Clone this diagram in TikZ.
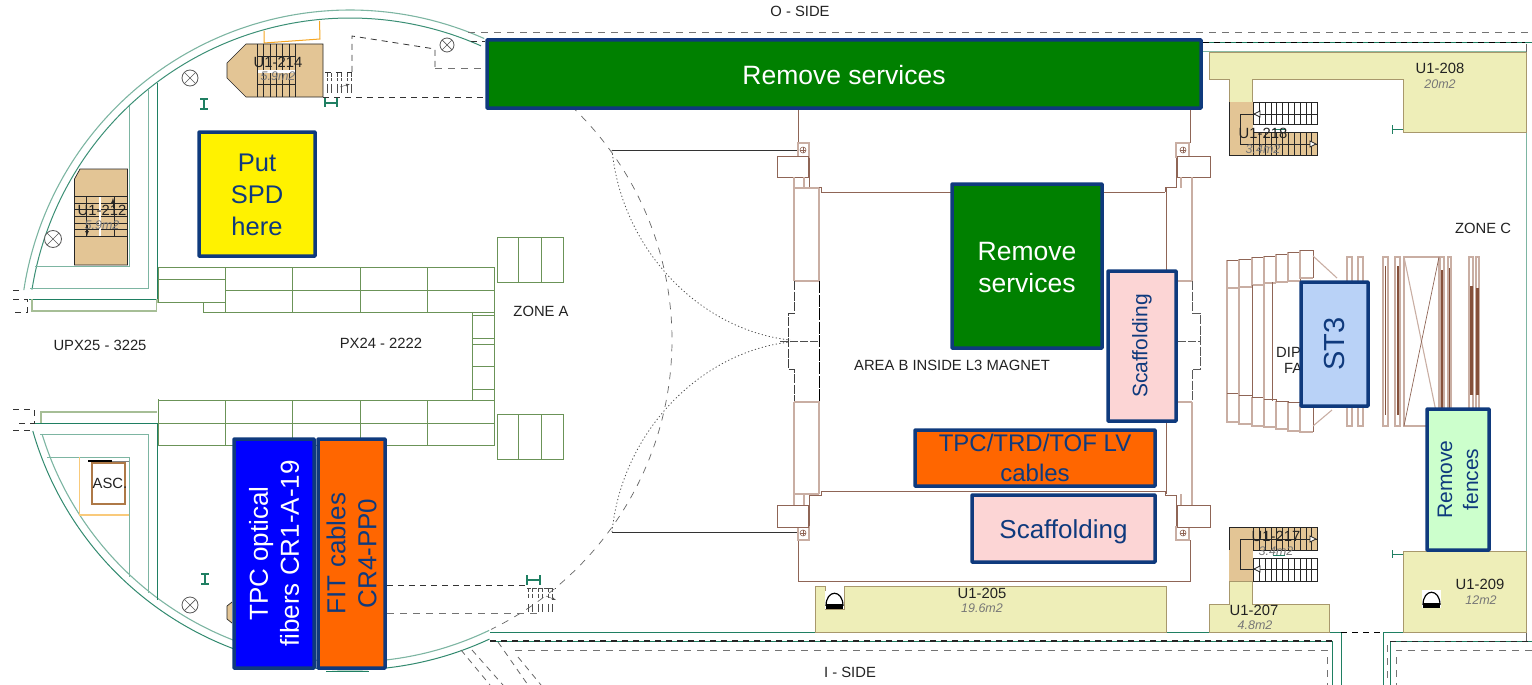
\documentclass[tikz,border=0pt]{standalone}
\usepackage{fontspec}
\setmainfont{Liberation Sans}
\definecolor{boxblue}{HTML}{0F3A7D}
\definecolor{wallteal}{HTML}{1F7F62}
\definecolor{walllight}{HTML}{7DB5A2}
\definecolor{gridgreen}{HTML}{6B9358}
\definecolor{wingrey}{HTML}{A6BE96}
\definecolor{brownline}{HTML}{8F6556}
\definecolor{brownlight}{HTML}{C9AEA3}
\definecolor{browndark}{HTML}{85503A}
\definecolor{roomfill}{HTML}{EEEEB8}
\definecolor{roomline}{HTML}{A8986C}
\definecolor{stairfill}{HTML}{E3C595}
\definecolor{labelgrey}{HTML}{222222}
\definecolor{areagrey}{HTML}{777777}
\definecolor{orangewire}{HTML}{F5A623}
\definecolor{stthreefill}{HTML}{B9D2F7}
\definecolor{fencefill}{HTML}{CCFFCC}
\definecolor{scaffoldfill}{HTML}{FCD5D5}
\definecolor{cablefill}{HTML}{FF6600}
\tikzset{
	taskbox/.style={draw=boxblue, line width=3.5pt, rounded corners=0.6pt, align=center, inner sep=0pt, text=boxblue},
	planlabel/.style={text=labelgrey, font=\fontsize{14.8}{16}\selectfont, inner sep=0pt},
	arealabel/.style={text=areagrey, font=\itshape\fontsize{12.5}{14}\selectfont, inner sep=0pt},
	room/.style={draw=roomline, fill=roomfill, line width=0.9pt},
	stairs/.style={draw=black!85, line width=0.7pt},
	grid/.style={draw=gridgreen, line width=0.9pt},
	brownwall/.style={draw=brownline, line width=0.9pt},
	brownpale/.style={draw=brownlight, line width=1.1pt},
	hiddenline/.style={draw=black!80, line width=0.8pt, dash pattern=on 6pt off 5pt},
	greydash/.style={draw=black!55, line width=1pt, dash pattern=on 7pt off 6pt},
	tealline/.style={draw=wallteal, line width=0.9pt},
	paleline/.style={draw=walllight, line width=1pt}
}
\def\ringarc[#1](#2:#3:#4){\draw[#1] plot[domain=#2:#3, samples=70, smooth] ({350+#4*cos(\x)},{340+#4*sin(\x)});}
\def\lampmark(#1,#2,#3){
	\draw[black!65, line width=0.8pt, fill=white] (#1,#2) circle (#3pt);
	\draw[black!65, line width=0.7pt] ({#1-0.7*#3},{#2-0.7*#3}) -- ({#1+0.7*#3},{#2+0.7*#3});
	\draw[black!65, line width=0.7pt] ({#1-0.7*#3},{#2+0.7*#3}) -- ({#1+0.7*#3},{#2-0.7*#3});
}
\def\liftmark(#1,#2){
	\begin{scope}[shift={(#1,#2)}]
		\fill[white] (0,0) rectangle (19,18);
		\draw[black, line width=1.2pt] (1,15) .. controls (1,-2) and (18,-2) .. (18,15);
		\fill[black] (1,13) rectangle (18,18);
	\end{scope}
}
\begin{document}
\begin{tikzpicture}[x=1pt, y=-1pt]
			%%%%% START %%%%%
			\useasboundingbox (0,0) rectangle (1532,685);
			
			%%%%% round hall walls
			\ringarc[walllight, line width=1.1pt](188.7:294:330);
			\ringarc[wallteal!70!walllight, line width=1pt](189:294:322);
			\ringarc[wallteal!80!walllight, line width=1pt](65:164:330);
			\ringarc[walllight, line width=1.1pt](64.4:163:322);
			\ringarc[hiddenline, draw=black!60, line width=0.7pt, dash pattern=on 7pt off 7pt](-64:64:322);
			
			\draw[tealline] (157,83) -- (157,299) -- (29,299);
			\draw[draw=wingrey, line width=1.1pt] (32,299) -- (32,311) -- (157,311) -- (157,299);
			\draw[paleline] (148,89) -- (148,288) -- (30,288);
			\draw[paleline] (129,106) -- (129,266) -- (35,266);
			\draw[hiddenline] (13,290) -- (22,290);
			\draw[hiddenline] (13,299) -- (27,299) -- (27,312) -- (13,312);
			
			\draw[tealline] (30,423) -- (157,423) -- (157,600);
			\draw[draw=wingrey, line width=1.1pt] (41,423) -- (41,412) -- (157,412);
			\draw[paleline] (40,434) -- (148,434) -- (148,593);
			\draw[paleline] (47,457) -- (129,457) -- (129,577);
			\draw[hiddenline] (13,409) -- (34,409) -- (34,423) -- (16,423);
			\draw[hiddenline] (13,430) -- (30,430);
			
			%%%%% outer corridor
			\draw[greydash] (468,33) -- (1532,33);
			\draw[hiddenline] (471,41) -- (485,41);
			\draw[tealline] (1203,42) -- (1532,42);
			\draw[hiddenline, draw=black] (1203,42) -- (1525,42);
			\draw[paleline] (1203,52) -- (1526,52) -- (1526,551);
			\draw[black!60, line width=0.8pt] (1526,44) -- (1526,52);
			
			\draw[tealline] (490,632) -- (1341,632) -- (1341,685);
			\draw[tealline] (490,641) -- (1332,641) -- (1332,685);
			\draw[hiddenline, draw=black!85, line width=1.1pt] (490,641) -- (1332,641);
			\draw[greydash] (515,650) -- (1327,650) -- (1327,685);
			\draw[hiddenline, draw=black] (1341,632) -- (1383,632);
			\draw[tealline] (1383,685) -- (1383,632) -- (1526,632);
			\draw[tealline] (1390,685) -- (1390,641) -- (1532,641);
			\draw[hiddenline, draw=black!85] (1390,641) -- (1532,641);
			\draw[greydash] (1387,645) -- (1387,680);
			\draw[greydash] (1532,650) -- (1396,650) -- (1396,685);
			\draw[black!60, line width=0.8pt] (1526,632) -- (1526,641);
			
			\draw[hiddenline, draw=black!60] (498,642) -- (528,685);
			\draw[hiddenline, draw=black!60] (518,657) -- (541,685);
			\draw[hiddenline, draw=black!60] (461,650) -- (490,685);
			\draw[hiddenline, draw=black!60] (472,650) -- (503,685);
			\draw[tealline] (326,671) -- (369,671);
			
			%%%%% zone A grids
			\draw[grid] (158,267) rectangle (494,445);
			\fill[white] (157,303) rectangle (471,399);
			\fill[white] (157,303) rectangle (202,312);
			\draw[grid] (158,279) -- (225,279);
			\draw[grid] (158,302) -- (225,302);
			\draw[grid] (203,302) -- (203,312) -- (472,312);
			\draw[grid] (225,290) -- (494,290);
			\draw[grid] (158,400) -- (494,400);
			\draw[grid] (158,423) -- (494,423);
			\draw[grid] (158,267) -- (158,302);
			\draw[grid] (158,400) -- (158,445);
			\draw[grid] (472,312) -- (472,400);
			\foreach \stepy in {312,315,338,344,366,389} {
				\draw[grid] (472,\stepy) -- (494,\stepy);
			}
			\foreach \cellx in {225,292,360,427} {
				\draw[grid] (\cellx,267) -- (\cellx,312);
				\draw[grid] (\cellx,400) -- (\cellx,445);
			}
			\foreach \topy in {237,414} {
				\draw[grid] (497,\topy) rectangle (563,\topy+45);
				\draw[grid] (518,\topy) -- (518,\topy+45);
				\draw[grid] (541,\topy) -- (541,\topy+45);
			}
			
			%%%%% stair U1-214
			\draw[orangewire, line width=1pt] (264,31) -- (264,43) -- (320,39) -- (319.5,21);
			\draw[stairs, fill=stairfill] (246,44) -- (323,44) -- (323,97) -- (246,97) -- (227,78) -- (227,63) -- cycle;
			\foreach \treadx in {257,263.5,270,276,282.5,289,295} {
				\draw[stairs] (\treadx,44) -- (\treadx,97);
			}
			\fill[white] (258,70) rectangle (295,73);
			\draw[stairs] (257,56) -- (295,56);
			\draw[stairs] (257,84) -- (295,84);
			\node[planlabel] (uonetwofourteen) at (278,62) {U1-214};
			\node[arealabel] (areafourteen) at (278,76) {5.9m2};
			
			\draw[hiddenline] (352,72) -- (352,36) -- (435,49) -- (435,69);
			\draw[greydash] (435,69) -- (485,69);
			\draw[hiddenline] (323,97) -- (485,97);
			\draw[hiddenline] (325,72) -- (352,72);
			\foreach \dashx in {327,337,347} {
				\draw[black!70, line width=0.7pt, dash pattern=on 4pt off 1.5pt] (\dashx,73) -- (\dashx,81);
				\draw[black!70, line width=0.7pt, dash pattern=on 4pt off 1.5pt] (\dashx+4,73) -- (\dashx+4,81);
				\draw[black!70, line width=0.7pt] (\dashx,84) -- (\dashx,93);
				\draw[black!70, line width=0.7pt] (\dashx+4,84) -- (\dashx+4,93);
			}
			\draw[black!70, -latex] (340,87) -- (350,84);
			
			%%%%% stair U1-212
			\draw[stairs, fill=stairfill] (80,169) -- (127.5,169) -- (127.5,265) -- (74.5,265) -- (74.5,179) -- cycle;
			\foreach \tready in {196,203,209.5,216,223,229,236} {
				\draw[stairs] (74.5,\tready) -- (127.5,\tready);
			}
			\foreach \postx in {86,114} {
				\draw[stairs] (\postx,196) -- (\postx,236);
			}
			\fill[white] (99,197) rectangle (101,236);
			\draw[stairs, -latex] (113,208) -- (113,198);
			\draw[stairs, -latex] (87,225) -- (87,236);
			\node[planlabel] (uonetwotwelve) at (102,210) {U1-212};
			\node[arealabel] (areatwelve) at (102,225) {5.9m2};
			
			%%%%% ASC. and lower stair
			\draw[orangewire!60, line width=0.9pt] (79,457) -- (79,515);
			\draw[orangewire!60, line width=2.2pt] (79,515) -- (129,515);
			\draw[draw=brownline!70!orangewire, line width=1.2pt] (92,463) rectangle (125,504);
			\draw[black, line width=1.5pt] (88,461) -- (112,461);
			\draw[black!50, line width=1pt] (112,461) -- (129,461);
			\node[planlabel] (ascnode) at (110,483) {ASC.};
			\draw[stairs, fill=stairfill] (232,602) -- (227,606) -- (227,619) -- (232,623);
			
			\draw[hiddenline] (387,585) -- (528,585);
			\draw[greydash] (387,613) -- (540,613);
			\foreach \dashx in {528,538,548} {
				\draw[black!70, line width=0.7pt, dash pattern=on 4pt off 1.5pt] (\dashx,588) -- (\dashx,598);
				\draw[black!70, line width=0.7pt, dash pattern=on 4pt off 1.5pt] (\dashx+4,588) -- (\dashx+4,598);
				\draw[black!70, line width=0.7pt] (\dashx,604) -- (\dashx,612);
				\draw[black!70, line width=0.7pt] (\dashx+4,604) -- (\dashx+4,612);
			}
			\draw[black!70, line width=0.7pt, dash pattern=on 4pt off 1.5pt] (527,588) -- (556,588);
			\draw[black!70, -latex] (546,596) -- (556,600);
			
			%%%%% lamps and door marks
			\lampmark(190,78,8)
			\lampmark(447,45,7)
			\lampmark(53,239,8.5)
			\lampmark(190,605,8)
			
			\draw[tealline, line width=1.1pt] (200,99) -- (208,99) (204,99) -- (204,109) (200,109) -- (208,109);
			\draw[tealline, line width=1.1pt] (201,574) -- (209,574) (205,574) -- (205,584) (201,584) -- (209,584);
			\draw[tealline, line width=1.1pt] (325,98) -- (325,107) (325,103) -- (337,103) (337,98) -- (337,107);
			\draw[tealline, line width=1.1pt] (527,575) -- (527,585) (527,580) -- (540,580) (540,575) -- (540,585);
			\draw[tealline] (1392,125) -- (1392,134) (1392,129) -- (1403,129);
			\draw[tealline] (1392,550) -- (1392,558) (1392,554) -- (1403,554);
			
			%%%%% magnet
			\draw[black!80, line width=1pt] (612,150) -- (798,150);
			\draw[black!80, line width=1pt] (612,532) -- (798,532);
			\draw[black!70, line width=0.8pt, dash pattern=on 1.2pt off 2.4pt] (612,150) .. controls (622,250) and (700,330) .. (790,340);
			\draw[black!70, line width=0.8pt, dash pattern=on 1.2pt off 2.4pt] (612,532) .. controls (622,432) and (700,352) .. (790,342);
			
			\draw[brownwall] (798,110) -- (798,143);
			\draw[brownwall] (1190,110) -- (1190,143);
			\draw[brownwall] (798,540) -- (798,581) -- (1190,581) -- (1190,540);
			\draw[brownwall] (809,143) -- (809,187) -- (821,187) -- (821,192) -- (1165,192);
			\draw[brownwall] (1176,143) -- (1176,187) -- (1165,187) -- (1165,192);
			\draw[brownwall] (809,540) -- (809,495) -- (821,495) -- (821,491) -- (1165,491);
			\draw[brownwall] (1176,540) -- (1176,495) -- (1165,495) -- (1165,491);
			
			\draw[brownpale] (798,143) rectangle (809,157);
			\draw[brownpale] (1176,143) rectangle (1189,157);
			\draw[brownpale] (798,527) rectangle (809,540);
			\draw[brownpale] (1176,527) rectangle (1189,540);
			\foreach \boltx/\bolty in {803/150,1183/150,803/533,1183/533} {
				\draw[brownline, line width=0.6pt] (\boltx,\bolty) circle (3pt);
				\draw[brownline, line width=0.5pt] (\boltx-3,\bolty) -- (\boltx+3,\bolty) (\boltx,\bolty-3) -- (\boltx,\bolty+3);
			}
			\foreach \colleft/\blockleft/\blockright in {794/777/808, 1166/1177/1210} {
				\draw[brownwall, fill=white] (\blockleft,156) rectangle (\blockright,177);
				\draw[brownwall, fill=white] (\blockleft,505) rectangle (\blockright,527);
				\draw[brownpale] (\colleft,281) -- (\colleft+26,281);
				\draw[brownpale] (\colleft,402) -- (\colleft+26,402);
			}
			\draw[brownpale] (794,188) -- (794,281) (819,188) -- (819,281) (794,188) -- (819,188);
			\draw[brownpale] (794,402) -- (794,494) (819,402) -- (819,494) (794,494) -- (819,494);
			\draw[brownpale] (794,177) -- (794,188) (804,177) -- (804,188);
			\draw[brownpale] (794,494) -- (794,505) (804,494) -- (804,505);
			\draw[brownpale] (1192,188) -- (1192,281);
			\draw[brownpale] (1192,402) -- (1192,494);
			\draw[brownwall] (1166,188) -- (1166,281);
			\draw[brownwall] (1166,402) -- (1166,494);
			\draw[brownpale] (1192,177) -- (1192,188) (1181,177) -- (1181,188);
			\draw[brownpale] (1192,494) -- (1192,505) (1181,494) -- (1181,505);
			
			\draw[black!75, line width=0.9pt, dash pattern=on 9pt off 1.5pt] (794,281) -- (794,313) -- (788,313) -- (788,369) -- (794,369) -- (794,401);
			\draw[black, line width=0.9pt, dash pattern=on 12pt off 1.5pt] (819,281) -- (819,401);
			\draw[black!70, line width=0.9pt, dash pattern=on 8pt off 2pt] (780,341) -- (819,341);
			\draw[black!65, line width=0.9pt, dash pattern=on 9pt off 1.5pt] (1192,281) -- (1192,313) -- (1200,313) -- (1200,369) -- (1192,369) -- (1192,401);
			\draw[black!65, line width=0.9pt, dash pattern=on 8pt off 2pt] (1178,341) -- (1200,341);
			
			%%%%% rooms
			\draw[room] (1209,52) -- (1526,52) -- (1526,132) -- (1403,132) -- (1403,79) -- (1252,79) -- (1252,102) -- (1229,102) -- (1229,79) -- (1209,79) -- cycle;
			\draw[room] (1403,551) -- (1526,551) -- (1526,632) -- (1403,632) -- cycle;
			\draw[room] (815,632) -- (815,586) -- (825,586) -- (825,609) -- (844,609) -- (844,586) -- (1166,586) -- (1166,632) -- cycle;
			\draw[room] (1229,581) -- (1252,581) -- (1252,604) -- (1329,604) -- (1329,632) -- (1209,632) -- (1209,604) -- (1229,604) -- cycle;
			\liftmark(825,591)
			\liftmark(1422,590)
			
			%%%%% stairs U1-218 and U1-217
			\fill[stairfill] (1229,102) rectangle (1253,155);
			\draw[stairs, fill=stairfill] (1229,102) -- (1229,155) -- (1317,155) -- (1317,132) -- (1253,132);
			\draw[stairs] (1253,102) rectangle (1317,124.5);
			\draw[stairs, fill=white] (1253,102) rectangle (1317,124.5);
			\fill[stairfill] (1229,527) rectangle (1253,581);
			\draw[stairs, fill=stairfill] (1229,527) rectangle (1317,550);
			\draw[stairs, fill=white] (1253,558) rectangle (1317,581);
			\fill[stairfill] (1229,550) rectangle (1252.5,581);
			\foreach \treadx in {1253,1259,1265,1271,1276.5,1282.5,1288,1294,1300,1306,1311.5,1317} {
				\draw[stairs] (\treadx,102) -- (\treadx,124.5);
				\draw[stairs] (\treadx,132) -- (\treadx,155);
				\draw[stairs] (\treadx,527) -- (\treadx,550);
				\draw[stairs] (\treadx,558) -- (\treadx,581);
			}
			\draw[stairs, line width=0.9pt] (1317,114) -- (1240,114) -- (1240,144) -- (1317,144);
			\draw[stairs, line width=0.9pt] (1317,569) -- (1240,569) -- (1240,539) -- (1317,539);
			\foreach \tipx/\tipy in {1257/114,1257/569} {
				\draw[stairs, fill=white] (\tipx-3,\tipy) -- (\tipx+3,\tipy-3) -- (\tipx+3,\tipy+3) -- cycle;
			}
			\foreach \tipx/\tipy in {1313/144,1313/539} {
				\draw[stairs, fill=white] (\tipx+3,\tipy) -- (\tipx-3,\tipy-3) -- (\tipx-3,\tipy+3) -- cycle;
			}
			\draw[tealline] (1273,129) -- (1285,129);
			\draw[tealline] (1273,555) -- (1285,555);
			
			%%%%% dipole
			\foreach \blockl/\blockr/\blockt/\blockb in {1227/1239/260/288, 1239/1252/259/287, 1252/1264/257/285, 1264/1276/256/283, 1276/1288/254/282, 1288/1300/252/281, 1300/1313/250/278, 1227/1239/393/422, 1239/1252/395/424, 1252/1264/397/426, 1264/1276/399/427, 1276/1288/401/429, 1288/1300/402/431, 1300/1313/404/432} {
				\draw[brownpale] (\blockl,\blockt) -- (\blockl,\blockb) -- (\blockr,\blockb);
				\draw[brownwall] (\blockl,\blockt) -- (\blockr,\blockt) -- (\blockr,\blockb);
			}
			\draw[brownpale] (1227,288) -- (1227,393) (1239,287) -- (1239,395) (1264,283) -- (1264,399);
			\draw[brownwall] (1252,285) -- (1252,397) (1272,282) -- (1272,401);
			\draw[brownpale] (1313,256) -- (1337,278) (1313,426) -- (1332,410);
			\foreach \barl/\barr in {1347/1352, 1358/1363, 1383/1388, 1395/1400, 1440/1444, 1448/1451, 1469/1473, 1476/1479} {
				\draw[brownpale] (\barl,257) rectangle (\barr,426);
			}
			\draw[brownpale] (1404,257) rectangle (1439,426);
			\draw[brownpale] (1404,257) -- (1439,426);
			\draw[brownwall, line width=0.7pt] (1439,257) -- (1404,426);
			\draw[browndark, line width=1.3pt] (1385.5,266) -- (1385.5,415);
			\draw[browndark, line width=1.3pt] (1398,266) -- (1398,415);
			\draw[browndark, line width=1.6pt] (1442,270) -- (1442,410);
			\draw[browndark, line width=1.6pt] (1449.5,268) -- (1449.5,410);
			\draw[browndark, line width=3pt] (1471,286) -- (1471,395);
			\draw[browndark, line width=3pt] (1477.5,288) -- (1477.5,395);
			
			%%%%% plan labels
			\node[planlabel] (oside) at (800,11) {O - SIDE};
			\node[planlabel] (iside) at (850,672) {I - SIDE};
			\node[planlabel] (upxlabel) at (100,345) {UPX25 - 3225};
			\node[planlabel] (pxlabel) at (381,343) {PX24 - 2222};
			\node[planlabel] (zonea) at (541,311) {ZONE A};
			\node[planlabel] (zonec) at (1483,228) {ZONE C};
			\node[planlabel] (areab) at (952,365) {AREA B INSIDE L3 MAGNET};
			\node[planlabel, anchor=west] (dipname) at (1276,352) {DIP};
			\node[planlabel, anchor=west] (farname) at (1284,368) {FA};
			\node[planlabel] (uonetwoeight) at (1440,68) {U1-208};
			\node[arealabel] (areaeight) at (1440,84) {20m2};
			\node[planlabel] (uonetwoeighteen) at (1263,133) {U1-218};
			\node[arealabel] (areaeighteen) at (1263,149) {3.4m2};
			\node[planlabel] (uonetwoseventeen) at (1276,536) {U1-217};
			\node[arealabel] (areaseventeen) at (1276,551) {3.4m2};
			\node[planlabel] (uonetwoseven) at (1254,610) {U1-207};
			\node[arealabel] (areaseven) at (1255,625) {4.8m2};
			\node[planlabel] (uonetwonine) at (1480,584) {U1-209};
			\node[arealabel] (areanine) at (1481,600) {12m2};
			\node[planlabel] (uonetwofive) at (982,593) {U1-205};
			\node[arealabel] (areafive) at (982,608) {19.6m2};
			
			%%%%% task boxes
			\node[taskbox, fill=green!50!black, text=white, minimum width=714pt, minimum height=68pt, font=\fontsize{26.5}{30}\selectfont] (servicestop) at (844,74) {\rule{0pt}{21pt}Remove services};
			\node[taskbox, fill=yellow, minimum width=116pt, minimum height=124pt, font=\fontsize{25.5}{32}\selectfont] (spdbox) at (257,194) {\rule{0pt}{19pt}Put\\SPD\\here};
			\node[taskbox, fill=green!50!black, text=white, minimum width=150pt, minimum height=164pt, font=\fontsize{26.5}{32}\selectfont] (servicesmid) at (1027,266) {\rule{0pt}{21pt}Remove\\services};
			\node[taskbox, fill=scaffoldfill, rotate=90, minimum width=150pt, minimum height=68pt, font=\fontsize{21}{25}\selectfont] (scaffoldup) at (1142,346) {Scaffolding};
			\node[taskbox, fill=cablefill, text=boxblue, minimum width=240pt, minimum height=56pt, font=\fontsize{24}{30}\selectfont] (lvcables) at (1035,458) {TPC/TRD/TOF LV\\cables};
			\node[taskbox, fill=scaffoldfill, minimum width=183pt, minimum height=67pt, font=\fontsize{26}{30}\selectfont] (scaffoldlow) at (1063.5,528.5) {\rule{0pt}{25pt}Scaffolding};
			\node[taskbox, fill=stthreefill, rotate=90, minimum width=124pt, minimum height=67pt, font=\fontsize{29}{34}\selectfont] (stthree) at (1334.5,344) {ST3};
			\node[taskbox, fill=fencefill, rotate=90, minimum width=141pt, minimum height=62pt, font=\fontsize{21}{26}\selectfont] (fences) at (1458,479.5) {Remove\\fences};
			\node[taskbox, fill=blue, text=white, rotate=90, minimum width=229pt, minimum height=80pt, font=\fontsize{26}{31}\selectfont] (tpcfibers) at (274,553.5) {TPC optical\\fibers CR1-A-19};
			\node[taskbox, fill=cablefill, rotate=90, minimum width=229pt, minimum height=67pt, font=\fontsize{26}{31}\selectfont] (fitcables) at (351.5,553.5) {FIT cables\\CR4-PP0};
			
			%%%%% END %%%%%
		\end{tikzpicture}
\end{document}
